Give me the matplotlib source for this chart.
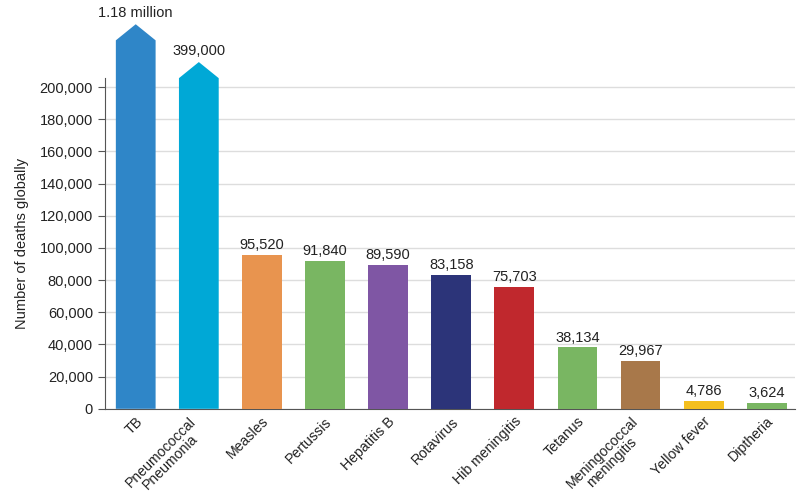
#!/usr/bin/env python3
import matplotlib
matplotlib.use('Agg')
import matplotlib.pyplot as plt
from matplotlib.patches import Polygon
from matplotlib.ticker import FuncFormatter
from matplotlib.transforms import ScaledTranslation

# data
diseases = ['TB', 'Pneumococcal\nPneumonia', 'Measles', 'Pertussis', 'Hepatitis B',
            'Rotavirus', 'Hib meningitis', 'Tetanus', 'Meningococcal\nmeningitis',
            'Yellow fever', 'Diptheria']
deaths = [1180000, 399000, 95520, 91840, 89590, 83158, 75703, 38134, 29967, 4786, 3624]
value_labels = ['1.18 million', '399,000', '95,520', '91,840', '89,590', '83,158',
                '75,703', '38,134', '29,967', '4,786', '3,624']
colors = ['#2f86c8', '#00a8d6', '#e8944f', '#79b662', '#7f56a4', '#2c3479',
          '#c0282d', '#79b662', '#a8784a', '#f4bf1e', '#79b662']

plt.rcParams['font.family'] = ['Liberation Sans', 'DejaVu Sans']

ymax = 205500
bar_w = 0.63

fig = plt.figure(figsize=(8, 5.01), dpi=100)
ax = fig.add_axes([0.131, 0.184, 0.863, 0.66])
ax.set_xlim(-0.49, len(deaths) - 0.55)
ax.set_ylim(0, ymax)

# off-scale bars get drawn as arrows sticking out above the axes
over = [i for i, v in enumerate(deaths) if v > ymax]
over_sorted = sorted(over, key=lambda i: deaths[i])
for i, v in enumerate(deaths):
    if i in over:
        rank = over_sorted.index(i)
        top = ymax + rank * 23500
        tip = top + 10000
        x0, x1 = i - bar_w / 2, i + bar_w / 2
        poly = Polygon([(x0, 0), (x0, top), (i, tip), (x1, top), (x1, 0)],
                       closed=True, facecolor=colors[i], edgecolor='none',
                       clip_on=False, zorder=3)
        ax.add_patch(poly)
        ax.annotate(value_labels[i], (i, tip), xytext=(0, 3), textcoords='offset points',
                    ha='center', va='bottom', fontsize=10.5, color='#222222',
                    annotation_clip=False)
    else:
        ax.bar(i, v, width=bar_w, color=colors[i], zorder=3)
        ax.annotate(value_labels[i], (i, v), xytext=(0, 2), textcoords='offset points',
                    ha='center', va='bottom', fontsize=10.5, color='#222222')

ax.set_yticks(range(0, 200001, 20000))
ax.yaxis.set_major_formatter(FuncFormatter(lambda y, p: f'{int(y):,}'))
ax.grid(axis='y', color='#dddddd', linewidth=1, zorder=0)
ax.set_axisbelow(True)

ax.set_xticks(range(len(diseases)))
ax.tick_params(axis='x', length=0, pad=4)
ax.tick_params(axis='y', length=5, color='#555555', labelsize=10.5, labelcolor='#222222')
ax.set_xticklabels(diseases, rotation=45, ha='right',
                   multialignment='center', linespacing=0.95,
                   fontsize=10.2, color='#222222')
# nudge rotated labels to the right so they sit under their bars
shift = ScaledTranslation(7 / 72, 0, fig.dpi_scale_trans)
for lbl in ax.get_xticklabels():
    lbl.set_transform(lbl.get_transform() + shift)

ax.set_ylabel('Number of deaths globally', fontsize=10.5, color='#222222', labelpad=8)

for s in ['top', 'right']:
    ax.spines[s].set_visible(False)
for s in ['left', 'bottom']:
    ax.spines[s].set_color('#555555')

plt.savefig('out.png', dpi=100)
